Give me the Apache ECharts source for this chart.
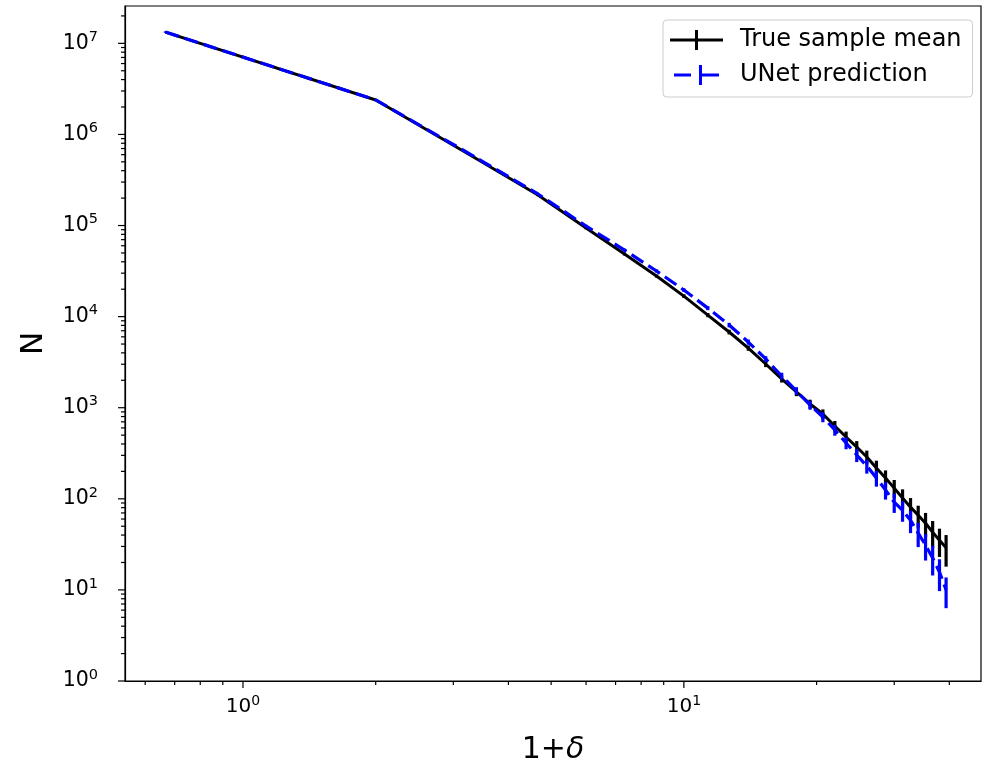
<!DOCTYPE html>
<html><head><meta charset="utf-8">
<script src="https://cdn.jsdelivr.net/npm/echarts@6/dist/echarts.min.js"></script>
<style>html,body{margin:0;padding:0;background:#fff}#c{width:986px;height:763px}</style>
</head><body><div id="c"></div>
<script>
// x values (1+delta)
const delta1 = [0.667, 2, 3.333, 4.667, 6, 7.333, 8.667, 10, 11.333, 12.667, 14, 15.333, 16.667, 18, 19.333,
  20.667, 22, 23.333, 24.667, 26, 27.333, 28.667, 30, 31.333, 32.667, 34, 35.333, 36.667, 38, 39.333];
// True sample mean
const meanTrue = [1.33e7, 2.39e6, 5.65e5, 2.16e5, 9.39e4, 4.87e4, 2.79e4, 1.68e4, 1.04e4, 6780, 4520, 3020, 2070, 1490, 1100,
  853, 630, 477, 370, 288, 218, 169, 131, 102, 81, 66, 54, 43, 35, 29];
const errTrue = [1.5e5, 4e4, 1.2e4, 6000, 3000, 1800, 1100, 780, 550, 400, 300, 230, 180, 150, 125,
  105, 85, 70, 60, 50, 44, 36, 30, 25, 21, 18, 16, 14, 12, 11];
// UNet prediction
const meanUNet = [1.33e7, 2.39e6, 5.79e5, 2.22e5, 9.88e4, 5.38e4, 3.17e4, 1.96e4, 1.24e4, 8090, 5260, 3430, 2230, 1530, 1070,
  791, 569, 410, 303, 229, 169, 125, 92, 75, 58, 42, 31, 22.4, 15.7, 10];
const errUNet = [1.5e5, 4e4, 1.2e4, 6200, 3200, 2000, 1250, 880, 620, 460, 340, 250, 190, 150, 120,
  98, 76, 60, 50, 40, 33, 27, 22, 19, 16, 12.5, 10, 8, 6, 3.7];
// axis ticks
const xMajorTicks = [1, 10];
const xMinorTicks = [0.6, 0.7, 0.8, 0.9, 2, 3, 4, 5, 6, 7, 8, 9, 20, 30, 40];
const yMajorTicks = [1, 10, 100, 1e3, 1e4, 1e5, 1e6, 1e7];
const yMinorTicks = [2, 3, 4, 5, 6, 7, 8, 9,
  20, 30, 40, 50, 60, 70, 80, 90,
  200, 300, 400, 500, 600, 700, 800, 900,
  2e3, 3e3, 4e3, 5e3, 6e3, 7e3, 8e3, 9e3,
  2e4, 3e4, 4e4, 5e4, 6e4, 7e4, 8e4, 9e4,
  2e5, 3e5, 4e5, 5e5, 6e5, 7e5, 8e5, 9e5,
  2e6, 3e6, 4e6, 5e6, 6e6, 7e6, 8e6, 9e6,
  2e7];
const X_MIN = 0.54, X_MAX = 47.2, Y_MIN = 1, Y_MAX = 2.57e7;
const seriesNames = ['True sample mean', 'UNet prediction'];

const chart = echarts.init(document.getElementById('c'), null, {renderer: 'canvas'});

function pairs(xs, ys) { return xs.map((x, i) => [x, ys[i]]); }
function triples(xs, ys, es) { return xs.map((x, i) => [x, ys[i], es[i]]); }

function errRender(color) {
  return function (params, api) {
    const x = api.value(0), y = api.value(1), e = api.value(2);
    const p1 = api.coord([x, y - e]);
    const p2 = api.coord([x, y + e]);
    return {type: 'line', shape: {x1: p1[0], y1: p1[1], x2: p2[0], y2: p2[1]},
      style: {stroke: color, lineWidth: 3.2}};
  };
}
function xTickRender(len) {
  return function (params, api) {
    const cs = params.coordSys;
    const x = api.coord([api.value(0), Y_MIN])[0];
    const yb = cs.y + cs.height;
    return {type: 'line', shape: {x1: x, y1: yb, x2: x, y2: yb + len}, style: {stroke: '#000', lineWidth: 1.2}};
  };
}
function yTickRender(len) {
  return function (params, api) {
    const cs = params.coordSys;
    const y = api.coord([X_MIN, api.value(1)])[1];
    const xl = cs.x;
    return {type: 'line', shape: {x1: xl, y1: y, x2: xl - len, y2: y}, style: {stroke: '#000', lineWidth: 1.2}};
  };
}
function powLabel(v) {
  const l = Math.log10(v);
  const k = Math.round(l);
  if (Math.abs(l - k) > 1e-6) return '';
  return '{b|10}{s|' + k + '}';
}

const option = {
  animation: false,
  backgroundColor: '#fff',
  grid: {left: 125, right: 5, top: 6, bottom: 82, show: true, borderColor: '#000', borderWidth: 1.2,
    backgroundColor: 'transparent', outerBoundsMode: 'none', containLabel: false},
  legend: {
    left: 663, top: 20, orient: 'vertical',
    padding: [8, 11, 10, 7], itemGap: 11, itemWidth: 53, itemHeight: 20,
    backgroundColor: 'rgba(255,255,255,0.8)', borderColor: '#cccccc', borderWidth: 1, borderRadius: 4,
    textStyle: {fontFamily: 'DejaVu Sans', fontSize: 24, color: '#000', padding: [0, 0, 0, 12]},
    data: [
      {name: seriesNames[0], icon: 'path://M0,8.5H53V11.5H0Z M25,0H28V20H25Z', itemStyle: {color: '#000'}},
      {name: seriesNames[1], icon: 'path://M0,8.5H17V11.5H0Z M25,8.5H45V11.5H25Z M25,0H28V20H25Z', itemStyle: {color: '#0000ff'}}
    ]
  },
  xAxis: {
    type: 'log', logBase: 10, min: X_MIN, max: X_MAX,
    axisLine: {show: true, lineStyle: {color: '#000', width: 1.2}},
    axisTick: {show: false}, splitLine: {show: false}, minorTick: {show: false},
    axisLabel: {
      margin: 13, showMinLabel: false, showMaxLabel: false,
      formatter: powLabel,
      rich: {
        b: {fontFamily: 'DejaVu Sans', fontSize: 20, color: '#000'},
        s: {fontFamily: 'DejaVu Sans', fontSize: 14, color: '#000', padding: [0, 0, 12, 0]}
      }
    },
    name: '{n|1+}{d|δ}', nameLocation: 'middle', nameGap: 54,
    nameTextStyle: {
      rich: {
        n: {fontFamily: 'DejaVu Sans', fontSize: 30, color: '#000'},
        d: {fontFamily: 'DejaVu Sans', fontSize: 30, fontStyle: 'italic', color: '#000'}
      }
    }
  },
  yAxis: {
    type: 'log', logBase: 10, min: Y_MIN, max: Y_MAX,
    axisLine: {show: true, lineStyle: {color: '#000', width: 1.2}},
    axisTick: {show: false}, splitLine: {show: false}, minorTick: {show: false},
    axisLabel: {
      margin: 27, showMinLabel: true, showMaxLabel: false,
      formatter: powLabel,
      rich: {
        b: {fontFamily: 'DejaVu Sans', fontSize: 20.5, color: '#000'},
        s: {fontFamily: 'DejaVu Sans', fontSize: 14.5, color: '#000', padding: [0, 0, 12, 0]}
      }
    },
    name: 'N', nameLocation: 'middle', nameGap: 76, nameRotate: 90,
    nameTextStyle: {fontFamily: 'DejaVu Sans', fontSize: 31, color: '#000'}
  },
  series: [
    {name: seriesNames[0], type: 'line', data: pairs(delta1, meanTrue), symbol: 'none', z: 2,
      lineStyle: {color: '#000', width: 3}, itemStyle: {color: '#000'}},
    {name: seriesNames[0] + ' err', type: 'custom', data: triples(delta1, meanTrue, errTrue), z: 3,
      encode: {x: 0, y: 1}, renderItem: errRender('#000'), silent: true},
    {name: seriesNames[1], type: 'line', data: pairs(delta1, meanUNet), symbol: 'none', z: 4,
      lineStyle: {color: '#0000ff', width: 3.2, type: [14, 6]}, itemStyle: {color: '#0000ff'}},
    {name: seriesNames[1] + ' err', type: 'custom', data: triples(delta1, meanUNet, errUNet), z: 5,
      encode: {x: 0, y: 1}, renderItem: errRender('#0000ff'), silent: true},
    {name: 'xMajor', type: 'custom', data: xMajorTicks.map(v => [v, Y_MIN]), encode: {x: 0, y: 1},
      renderItem: xTickRender(7), silent: true, clip: false},
    {name: 'xMinor', type: 'custom', data: xMinorTicks.map(v => [v, Y_MIN]), encode: {x: 0, y: 1},
      renderItem: xTickRender(4), silent: true, clip: false},
    {name: 'yMajor', type: 'custom', data: yMajorTicks.map(v => [X_MIN, v]), encode: {x: 0, y: 1},
      renderItem: yTickRender(7), silent: true, clip: false},
    {name: 'yMinor', type: 'custom', data: yMinorTicks.map(v => [X_MIN, v]), encode: {x: 0, y: 1},
      renderItem: yTickRender(4), silent: true, clip: false}
  ]
};
chart.setOption(option);
</script>
</body></html>
